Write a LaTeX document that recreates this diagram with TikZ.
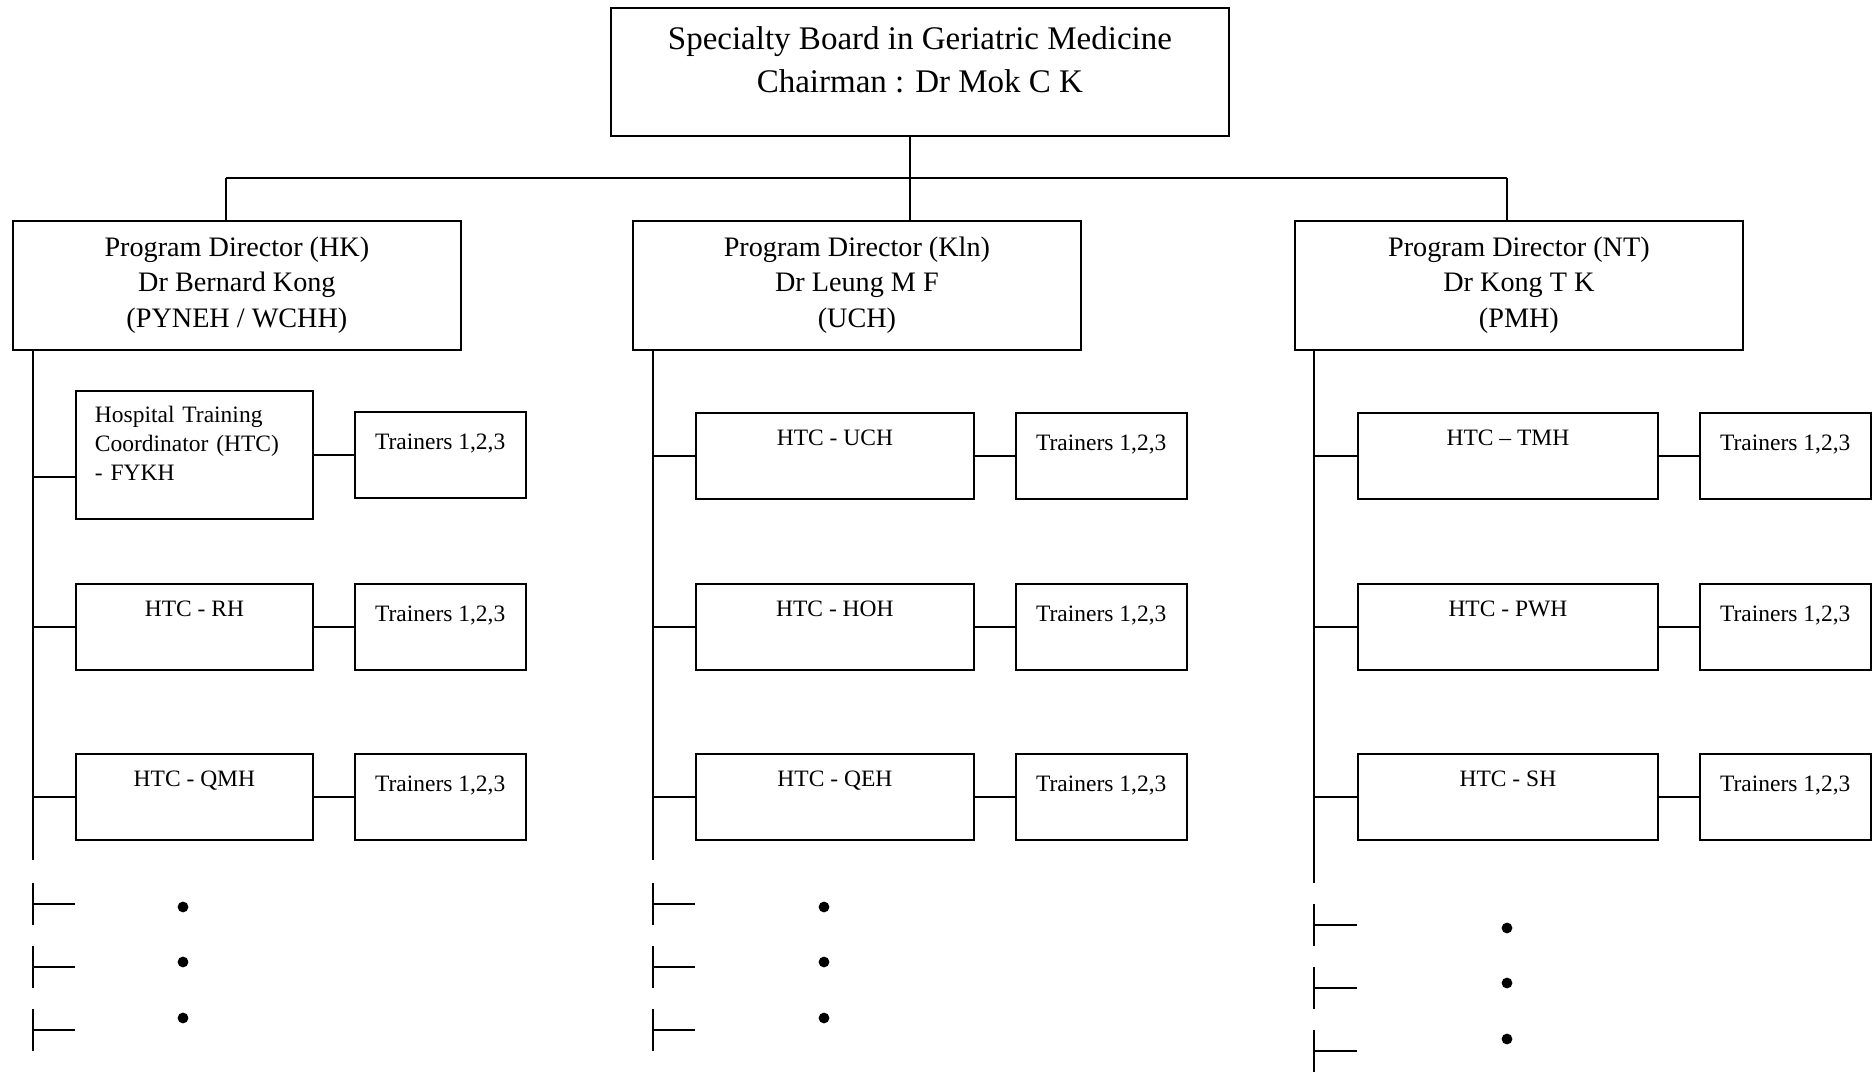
\documentclass[tikz,border=0pt]{standalone}
\usepackage{fontspec}
\setmainfont{Liberation Serif}
\usetikzlibrary{positioning}

\begin{document}
\begin{tikzpicture}[x=0.5pt, y=-0.5pt, line width=0.9pt, node distance=20pt,
        boardbox/.style={draw, inner sep=0pt, minimum width=309pt, align=center,
            text height=42.5pt, text depth=21.5pt, font=\fontsize{16.5}{21.5}\selectfont},
        pdbox/.style={draw, inner sep=0pt, minimum width=224pt, align=center,
            text height=53.25pt, text depth=11.25pt, font=\fontsize{14.1}{17.75}\selectfont},
        htcbox/.style={draw, inner sep=0pt, minimum width=#1, align=center,
            text height=16.5pt, text depth=26.5pt, font=\fontsize{11.75}{14.3}\selectfont},
        trbox/.style={draw, inner sep=0pt, minimum width=85.5pt, align=center,
            text height=19pt, text depth=24pt, font=\fontsize{11.75}{14.3}\selectfont}]
    \useasboundingbox (0,0) rectangle (1872,1074);

    % board and program directors
    \node[boardbox, anchor=north west] (board) at (610,7)
        {Specialty Board in Geriatric Medicine\\Chairman : Dr Mok C K};
    \node[pdbox, anchor=north west] (hk) at (12,220)
        {Program Director (HK)\\Dr Bernard Kong\\(PYNEH / WCHH)};
    \node[pdbox, anchor=north west] (kl) at (632,220)
        {Program Director (Kln)\\Dr Leung M F\\(UCH)};
    \node[pdbox, anchor=north west] (nt) at (1294,220)
        {Program Director (NT)\\Dr Kong T K\\(PMH)};

    % hospital training coordinators
    \node[htcbox=118.5pt, anchor=north west, align=left, text width=99.5pt,
        inner xsep=9.5pt, text height=16pt, text depth=48pt] (hk1) at (75,390)
        {Hospital Training\\Coordinator (HTC)\\- FYKH};
    \node[htcbox=118.5pt, anchor=north west] (hk2) at (75,583) {HTC - RH};
    \node[htcbox=118.5pt, anchor=north west] (hk3) at (75,753) {HTC - QMH};
    \node[htcbox=139pt, anchor=north west] (kl1) at (695,412) {HTC - UCH};
    \node[htcbox=139pt, anchor=north west] (kl2) at (695,583) {HTC - HOH};
    \node[htcbox=139pt, anchor=north west] (kl3) at (695,753) {HTC - QEH};
    \node[htcbox=150pt, anchor=north west] (nt1) at (1357,412) {HTC – TMH};
    \node[htcbox=150pt, anchor=north west] (nt2) at (1357,583) {HTC - PWH};
    \node[htcbox=150pt, anchor=north west] (nt3) at (1357,753) {HTC - SH};

    % trainers
    \foreach \col in {hk,kl,nt}
        \foreach \row in {1,2,3}
            \node[trbox, right=of \col\row] (\col\row t) {Trainers 1,2,3};

    % connectors
    \coordinate (jhk) at (226,178);
    \coordinate (jkl) at (910,178);
    \coordinate (jnt) at (1507,178);
    \draw (jhk) -- (jnt);
    \draw (board.south -| jkl) -- (kl.north -| jkl);
    \draw (jhk) -- (hk.north -| jhk);
    \draw (jnt) -- (nt.north -| jnt);

    \coordinate (hkend) at (33,860);
    \coordinate (klend) at (653,860);
    \coordinate (ntend) at (1314,883);
    \draw (hk.south -| hkend) -- (hkend);
    \draw (kl.south -| klend) -- (klend);
    \draw (nt.south -| ntend) -- (ntend);

    \path ([yshift=-11pt]hk1.west) coordinate (hk1in);
    \draw (hk1in -| hkend) -- (hk1in);
    \foreach \row in {2,3}
        \draw (hk\row.west -| hkend) -- (hk\row.west);
    \foreach \row in {1,2,3} {
        \draw (kl\row.west -| klend) -- (kl\row.west);
        \draw (nt\row.west -| ntend) -- (nt\row.west);
    }
    \foreach \col in {hk,kl,nt}
        \foreach \row in {1,2,3}
            \draw (\col\row.east) -- (\col\row t.west);

    % more hospitals to come
    \foreach \sx/\bx/\dx/\dy in {33/75/183/0, 653/695/824/0, 1314/1357/1507/21}
        \foreach \ty/\py in {904/907, 967/962, 1030/1018} {
            \draw (\sx,\ty+\dy-21) -- (\sx,\ty+\dy+21);
            \draw (\sx,\ty+\dy) -- (\bx,\ty+\dy);
            \fill (\dx,\py+\dy) circle (2.7pt);
        }
\end{tikzpicture}
\end{document}
